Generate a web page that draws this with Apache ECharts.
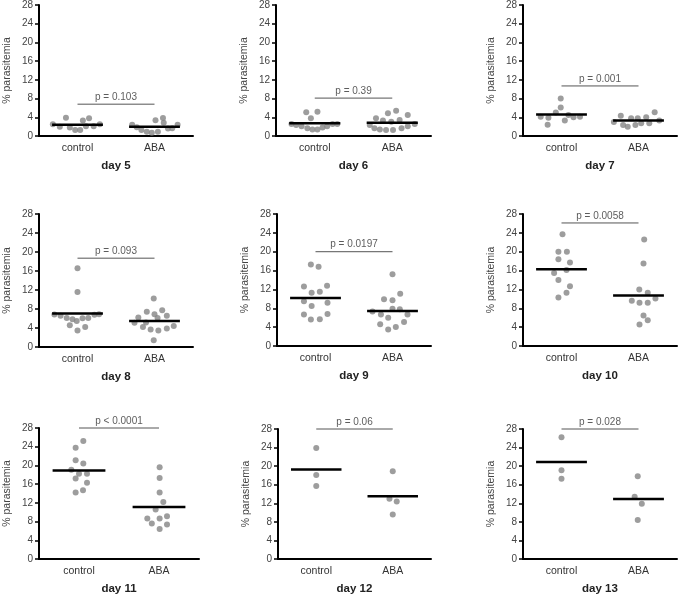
<!DOCTYPE html>
<html><head><meta charset="utf-8">
<script src="https://cdn.jsdelivr.net/npm/echarts@6/dist/echarts.min.js"></script>
<style>html,body{margin:0;padding:0;background:#fff}#c{width:685px;height:596px}</style>
</head><body><div id="c"></div>
<script>
const categories = ['control', 'ABA'];
const dayNames = ['day 5','day 6','day 7','day 8','day 9','day 10','day 11','day 12','day 13'];
const pTexts = ['p = 0.103','p = 0.39','p = 0.001','p = 0.093','p = 0.0197','p = 0.0058','p < 0.0001','p = 0.06','p = 0.028'];
const pBarLevels = [6.8, 8.1, 10.7, 18.7, 20, 26.1, 28, 28, 28];
const controlMedians = [2.4, 2.7, 4.6, 7.05, 10.2, 16.3, 18.9, 19.3, 20.9];
const abaMedians = [2.0, 2.85, 3.3, 5.5, 7.4, 10.7, 11.1, 13.5, 12.9];

// % parasitemia values and horizontal jitter (in category units)
const day5Control = [2.5, 2.0, 3.9, 1.8, 1.3, 1.3, 3.3, 2.1, 3.8, 2.1, 2.5];
const day5ControlJitter = [-0.32, -0.23, -0.15, -0.10, -0.03, 0.035, 0.07, 0.11, 0.15, 0.21, 0.29];
const day5ABA = [2.4, 1.85, 1.3, 0.9, 0.7, 3.35, 0.9, 3.85, 2.85, 1.6, 1.65, 2.4];
const day5ABAJitter = [-0.29, -0.23, -0.17, -0.10, -0.035, 0.013, 0.044, 0.11, 0.12, 0.175, 0.23, 0.30];

const day6Control = [2.55, 2.35, 2.1, 5.05, 1.65, 3.8, 1.4, 5.2, 1.4, 1.8, 2.1, 2.55, 2.55];
const day6ControlJitter = [-0.30, -0.24, -0.17, -0.11, -0.095, -0.05, -0.03, 0.035, 0.035, 0.10, 0.16, 0.23, 0.29];
const day6ABA = [2.35, 1.65, 3.8, 1.4, 3.3, 1.3, 4.85, 3.05, 1.3, 5.4, 3.4, 1.65, 4.5, 2.1, 2.55];
const day6ABAJitter = [-0.29, -0.23, -0.21, -0.16, -0.12, -0.08, -0.056, -0.013, 0.01, 0.05, 0.095, 0.12, 0.2, 0.2, 0.29];

const day7Control = [4.1, 3.9, 2.4, 5.0, 6.1, 8.0, 3.3, 4.5, 4.0, 4.1];
const day7ControlJitter = [-0.27, -0.17, -0.18, -0.074, -0.01, -0.01, 0.043, 0.09, 0.156, 0.24];
const day7ABA = [3.0, 4.35, 2.35, 2.0, 3.8, 2.35, 3.8, 2.7, 4.0, 2.7, 5.05, 3.3];
const day7ABAJitter = [-0.32, -0.23, -0.2, -0.14, -0.096, -0.04, -0.01, 0.035, 0.1, 0.14, 0.21, 0.27];

const day8Control = [6.85, 6.6, 6.1, 4.6, 5.85, 5.5, 3.5, 11.6, 16.6, 6.05, 4.2, 6.1, 6.8, 6.9];
const day8ControlJitter = [-0.30, -0.22, -0.14, -0.10, -0.065, -0.01, 0, 0, 0, 0.065, 0.10, 0.14, 0.22, 0.28];
const day8ABA = [5.1, 6.2, 4.2, 7.4, 5.15, 3.7, 1.4, 10.2, 6.9, 6.1, 3.5, 7.75, 6.6, 3.9, 4.4];
const day8ABAJitter = [-0.26, -0.21, -0.15, -0.10, -0.11, -0.05, -0.01, -0.01, 0, 0.04, 0.05, 0.10, 0.16, 0.16, 0.25];

const day9Control = [6.7, 12.6, 9.5, 17.3, 5.6, 11.3, 8.5, 16.8, 11.5, 5.7, 12.8, 9.15, 6.8];
const day9ControlJitter = [-0.15, -0.15, -0.15, -0.06, -0.06, -0.05, -0.05, 0.04, 0.056, 0.056, 0.15, 0.156, 0.156];
const day9ABA = [7.3, 4.6, 6.7, 9.9, 6.0, 3.5, 9.7, 7.9, 15.2, 4.05, 7.8, 11.1, 5.1, 6.7];
const day9ABAJitter = [-0.26, -0.16, -0.15, -0.11, -0.056, -0.056, 0, 0, 0, 0.043, 0.095, 0.1, 0.15, 0.195];

const day10Control = [23.7, 20.0, 20.0, 18.4, 17.7, 15.5, 16.1, 14.0, 12.7, 10.3, 11.3];
const day10ControlJitter = [0.013, -0.04, 0.07, -0.04, 0.11, -0.096, 0.065, -0.04, 0.11, -0.04, 0.065];
const day10ABA = [22.6, 17.5, 12.0, 11.3, 9.6, 9.15, 9.15, 10.1, 6.45, 5.45, 4.55];
const day10ABAJitter = [0.074, 0.065, 0.01, 0.12, -0.087, 0.013, 0.12, 0.22, 0.065, 0.12, 0.013];

const day11Control = [25.2, 23.8, 21.1, 20.4, 19.1, 18.2, 18.2, 17.2, 16.3, 14.7, 14.2];
const day11ControlJitter = [0.054, -0.042, -0.042, 0.054, -0.096, 0, 0.10, -0.042, 0.10, 0.05, -0.042];
const day11ABA = [19.6, 17.3, 14.2, 12.2, 10.6, 8.65, 8.65, 9.15, 7.6, 7.4, 6.4];
const day11ABAJitter = [0.008, 0.008, 0.008, 0.054, -0.042, -0.146, 0.008, 0.10, -0.09, 0.10, 0.008];

const day12Control = [23.9, 18.1, 15.7];
const day12ControlJitter = [0, 0, 0];
const day12ABA = [18.9, 13.0, 12.4, 9.6];
const day12ABAJitter = [0, -0.043, 0.052, 0];

const day13Control = [26.2, 19.1, 17.3];
const day13ControlJitter = [0, 0, 0];
const day13ABA = [17.8, 13.4, 11.9, 8.4];
const day13ABAJitter = [-0.01, -0.05, 0.043, -0.01];

const controlSets = [day5Control, day6Control, day7Control, day8Control, day9Control, day10Control, day11Control, day12Control, day13Control];
const controlJitters = [day5ControlJitter, day6ControlJitter, day7ControlJitter, day8ControlJitter, day9ControlJitter, day10ControlJitter, day11ControlJitter, day12ControlJitter, day13ControlJitter];
const abaSets = [day5ABA, day6ABA, day7ABA, day8ABA, day9ABA, day10ABA, day11ABA, day12ABA, day13ABA];
const abaJitters = [day5ABAJitter, day6ABAJitter, day7ABAJitter, day8ABAJitter, day9ABAJitter, day10ABAJitter, day11ABAJitter, day12ABAJitter, day13ABAJitter];

// layout (pixels)
const panelBoxes = [
  [39, 5, 154, 131], [276, 5, 155, 131], [523, 5, 154, 131],
  [39, 214, 154, 133], [277, 214, 154, 132], [523, 214, 154, 132],
  [39, 428, 160, 132], [278, 429, 153, 132], [523, 429, 154, 132]
];

const FONT = 'Liberation Sans, Arial, sans-serif';
const grid = [], xAxis = [], yAxis = [], series = [];

panelBoxes.forEach((b, i) => {
  grid.push({left: b[0], top: b[1], width: b[2], height: b[3]});
  xAxis.push({
    type: 'category', gridIndex: i, data: categories, boundaryGap: true,
    axisLine: {onZero: false, lineStyle: {color: '#000', width: 2}},
    axisTick: {alignWithLabel: true, length: 4, lineStyle: {color: '#000', width: 1.5}},
    axisLabel: {fontSize: 10.5, color: '#333', margin: 7, fontFamily: FONT},
    name: dayNames[i], nameLocation: 'middle', nameGap: 24,
    nameTextStyle: {fontSize: 11.5, fontWeight: 'bold', color: '#222', fontFamily: FONT}
  });
  xAxis.push({type: 'value', gridIndex: i, min: -0.5, max: 1.5, show: false});
  yAxis.push({
    type: 'value', gridIndex: i, min: 0, max: 28, interval: 4,
    axisLine: {show: true, onZero: false, lineStyle: {color: '#000', width: 2}},
    axisTick: {show: true, length: 4, lineStyle: {color: '#000', width: 1.5}},
    splitLine: {show: false},
    axisLabel: {fontSize: 10, color: '#444', margin: 6, fontFamily: FONT},
    name: '% parasitemia', nameLocation: 'middle', nameGap: 26,
    nameTextStyle: {fontSize: 10.5, color: '#444', fontFamily: FONT}
  });
  const xi = i * 2 + 1;
  const groups = [[controlSets[i], controlJitters[i], 0, controlMedians[i]], [abaSets[i], abaJitters[i], 1, abaMedians[i]]];
  groups.forEach(g => {
    series.push({
      type: 'scatter', xAxisIndex: xi, yAxisIndex: i, symbolSize: 6, animation: false,
      itemStyle: {color: '#858585'}, silent: true,
      data: g[0].map((v, k) => [g[2] + g[1][k], v])
    });
    series.push({
      type: 'line', xAxisIndex: xi, yAxisIndex: i, symbol: 'none', animation: false, silent: true, z: 5,
      lineStyle: {color: '#000', width: 2.5},
      data: [[g[2] - 0.33, g[3]], [g[2] + 0.33, g[3]]]
    });
  });
  series.push({
    type: 'line', xAxisIndex: xi, yAxisIndex: i, symbol: 'none', animation: false, silent: true, clip: false,
    lineStyle: {color: '#555', width: 1},
    data: [[0, pBarLevels[i]], [1, pBarLevels[i]]]
  });
  series.push({
    type: 'scatter', xAxisIndex: xi, yAxisIndex: i, symbolSize: 0, animation: false, silent: true, clip: false,
    label: {show: true, position: 'top', distance: 2, formatter: pTexts[i], fontSize: 10, color: '#333', fontFamily: FONT},
    data: [[0.5, pBarLevels[i]]]
  });
});

const chart = echarts.init(document.getElementById('c'), null, {renderer: 'canvas'});
chart.setOption({animation: false, backgroundColor: '#fff', grid, xAxis, yAxis, series});
</script></body></html>
